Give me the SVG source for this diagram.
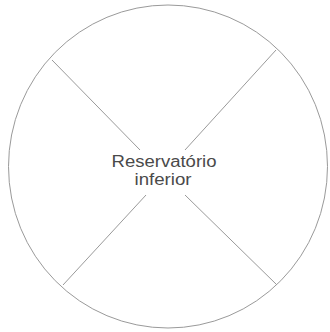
<svg xmlns="http://www.w3.org/2000/svg" width="330" height="332" viewBox="0 0 330 332">
<style>
.ln{stroke:#9a9a9a;stroke-width:1;fill:none}
.lbl{font-family:"Liberation Sans",Arial,sans-serif;font-size:16px;fill:#4a4a4a;text-anchor:middle}
</style>
<rect width="330" height="332" fill="#fff"/>
<g id="reservatorio">
<ellipse class="ln" cx="168" cy="166.5" rx="159.5" ry="161.5"/>
<text class="lbl" x="164" y="167" textLength="105" lengthAdjust="spacingAndGlyphs">Reservatório</text>
<text class="lbl" x="163" y="185" textLength="57" lengthAdjust="spacingAndGlyphs">inferior</text>
</g>
<g id="connectors">
<line class="ln" x1="52" y1="60" x2="140" y2="150"/>
<line class="ln" x1="276" y1="50" x2="185" y2="150"/>
<line class="ln" x1="146" y1="195" x2="63" y2="285"/>
<line class="ln" x1="185" y1="195" x2="277" y2="285"/>
</g>
</svg>
